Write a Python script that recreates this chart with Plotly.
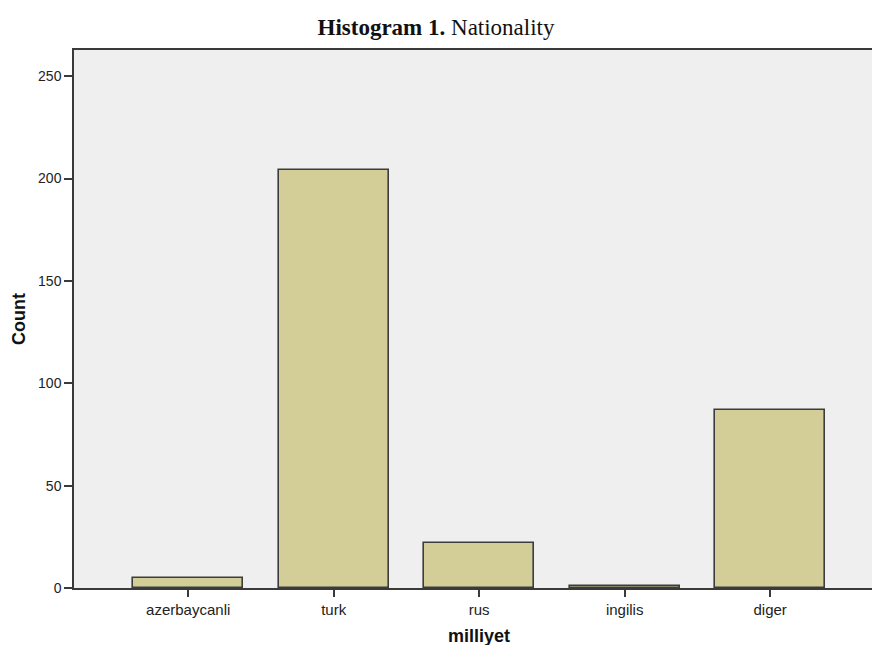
import plotly.graph_objects as go

categories = ["azerbaycanli", "turk", "rus", "ingilis", "diger"]
counts = [5, 204, 22, 1, 87]
y_ticks = [0, 50, 100, 150, 200, 250]

fig = go.Figure()
fig.add_trace(go.Bar(
    x=categories, y=counts, width=0.756,
    marker=dict(color="#d3ce97", line=dict(color="#3c3c3c", width=1.6)),
))

fig.update_layout(
    width=872, height=645,
    margin=dict(l=74, r=0, t=50, b=57),
    paper_bgcolor="white", plot_bgcolor="#efefef",
    showlegend=False,
    font=dict(family="Liberation Sans, Arial, sans-serif", size=14, color="#222"),
    title=dict(
        text="<b>Histogram 1.</b> Nationality",
        x=0.5, xanchor="center", xref="container", y=1 - 27/645, yanchor="middle", yref="container",
        font=dict(family="Liberation Serif, Times New Roman, serif", size=23, color="#111"),
    ),
    bargap=0,
)
fig.update_xaxes(
    type="category", range=[-0.785, 4.70],
    showline=True, linecolor="#3a3a3a", linewidth=1.5, mirror=True,
    ticks="outside", ticklen=7, tickwidth=1.5, tickcolor="#3a3a3a",
    tickfont=dict(size=15, color="#222"), showgrid=False, zeroline=False,
)
fig.update_yaxes(
    range=[0, 262.8], tickvals=y_ticks,
    showline=True, linecolor="#3a3a3a", linewidth=1.5, mirror=False,
    ticks="outside", ticklen=8, tickwidth=1.5, tickcolor="#3a3a3a",
    tickfont=dict(size=14, color="#222"), showgrid=False, zeroline=False,
    title=dict(text="<b>Count</b>", font=dict(size=18, color="#111"), standoff=8),
)
fig.add_annotation(
    text="<b>milliyet</b>", x="rus", xref="x", y=-48/538, yref="paper", yanchor="middle",
    showarrow=False, font=dict(size=18, color="#111"),
)
fig.write_html("out.html", config={"displayModeBar": False},
               post_script="document.body.style.margin='0px';")
